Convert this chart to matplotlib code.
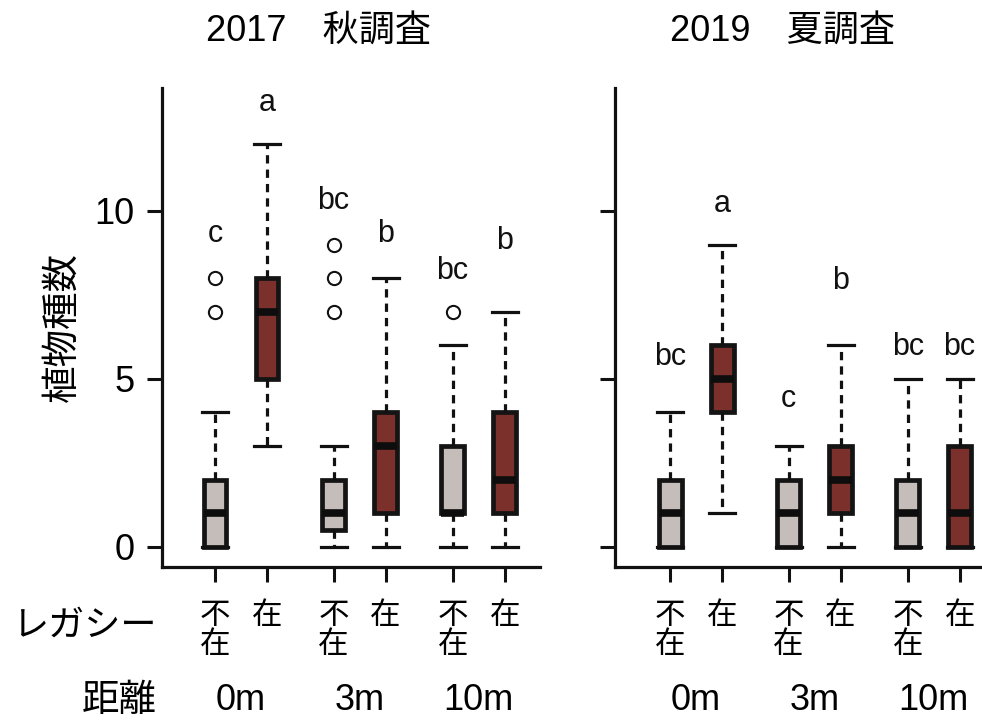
import matplotlib
matplotlib.use('Agg')
import matplotlib.pyplot as plt
from matplotlib.transforms import blended_transform_factory

plt.rcParams['font.family'] = ['Liberation Sans', 'Noto Sans CJK JP']

# box statistics: absent/present x 0m, 3m, 10m
titles = ['2017\u3000秋調査', '2019\u3000夏調査']
tick_labels = ['不\n在', '在', '不\n在', '在', '不\n在', '在']
distances = ['0m', '3m', '10m']

q1_2017 = [0, 5, 0.5, 1, 1, 1]
med_2017 = [1, 7, 1, 3, 1, 2]
q3_2017 = [2, 8, 2, 4, 3, 4]
lo_2017 = [0, 3, 0, 0, 0, 0]
hi_2017 = [4, 12, 3, 8, 6, 7]
out_2017 = [[7, 8], [], [7, 8, 9], [], [7], []]
letters_2017 = ['c', 'a', 'bc', 'b', 'bc', 'b']
letter_y_2017 = [9.3, 13.2, 10.3, 9.3, 8.2, 9.1]

q1_2019 = [0, 4, 0, 1, 0, 0]
med_2019 = [1, 5, 1, 2, 1, 1]
q3_2019 = [2, 6, 2, 3, 2, 3]
lo_2019 = [0, 1, 0, 0, 0, 0]
hi_2019 = [4, 9, 3, 6, 5, 5]
out_2019 = [[], [], [], [], [], []]
letters_2019 = ['bc', 'a', 'c', 'b', 'bc', 'bc']
letter_y_2019 = [5.65, 10.2, 4.4, 7.9, 5.95, 5.95]

positions = [0, 1, 2.28, 3.28, 4.57, 5.57]
colors = ['#c4bdba', '#7b302b'] * 3

panels = [
    (q1_2017, med_2017, q3_2017, lo_2017, hi_2017, out_2017, letters_2017, letter_y_2017),
    (q1_2019, med_2019, q3_2019, lo_2019, hi_2019, out_2019, letters_2019, letter_y_2019),
]

fig = plt.figure(figsize=(9.82, 7.27), dpi=100)
ax_rects = [[162 / 982, 160 / 727, 378 / 982, 479 / 727],
            [615 / 982, 160 / 727, 367 / 982, 479 / 727]]
xlims = [(-1.02, 6.25), (-1.06, 6.0)]
title_x = [318 / 982, 783 / 982]

for i, (q1, med, q3, lo, hi, outl, letters, ly) in enumerate(panels):
    ax = fig.add_axes(ax_rects[i])
    stats = []
    for k in range(6):
        stats.append(dict(q1=q1[k], med=med[k], q3=q3[k], whislo=lo[k],
                          whishi=hi[k], fliers=outl[k]))
    bp = ax.bxp(stats, positions=positions, widths=0.44, patch_artist=True,
                capwidths=0.5,
                boxprops=dict(linewidth=3.4, edgecolor='#141414'),
                medianprops=dict(color='#0d0d0d', linewidth=5.5, solid_capstyle='butt'),
                whiskerprops=dict(color='#111111', linewidth=2.3, linestyle=(0, (2.6, 1.9))),
                capprops=dict(color='#111111', linewidth=2.3),
                flierprops=dict(marker='o', markersize=9.5, markerfacecolor='white',
                                markeredgecolor='#111111', markeredgewidth=1.5))
    for patch, c in zip(bp['boxes'], colors):
        patch.set_facecolor(c)
    for k in range(6):
        ax.text(positions[k], ly[k], letters[k], ha='center', va='center',
                fontsize=22, color='#111111')

    ax.set_xlim(*xlims[i])
    ax.set_ylim(-0.6, 13.66)
    ax.set_yticks([0, 5, 10])
    ax.set_xticks(positions)
    ax.set_xticklabels(tick_labels, fontsize=22, linespacing=0.9,
                       family=['Noto Sans CJK JP'])
    for sp in ['top', 'right']:
        ax.spines[sp].set_visible(False)
    for sp in ['left', 'bottom']:
        ax.spines[sp].set_linewidth(2.3)
        ax.spines[sp].set_color('#111111')
    ax.tick_params(axis='both', length=11, width=2.2, color='#111111')
    ax.tick_params(axis='x', pad=13)
    ax.tick_params(axis='y', labelsize=26, pad=9)
    if i == 1:
        ax.set_yticklabels([])
    else:
        ax.set_ylabel('植物種数', fontsize=27, family=['Noto Sans CJK JP'], labelpad=9)

    # distance labels centred under each pair
    tr = blended_transform_factory(ax.transData, fig.transFigure)
    for j, d in enumerate(distances):
        xm = (positions[2 * j] + positions[2 * j + 1]) / 2
        ax.text(xm, 1 - 701 / 727, d, transform=tr, ha='center', va='center',
                fontsize=26, clip_on=False)

    fig.text(title_x[i], 1 - 31 / 727, titles[i], ha='center', va='center', fontsize=26)

fig.text(157 / 982, 1 - 626 / 727, 'レガシー', ha='right', va='center', fontsize=26,
         family=['Noto Sans CJK JP'])
fig.text(157 / 982, 1 - 701 / 727, '距離', ha='right', va='center', fontsize=27,
         family=['Noto Sans CJK JP'])

fig.savefig('out.png', dpi=100)
